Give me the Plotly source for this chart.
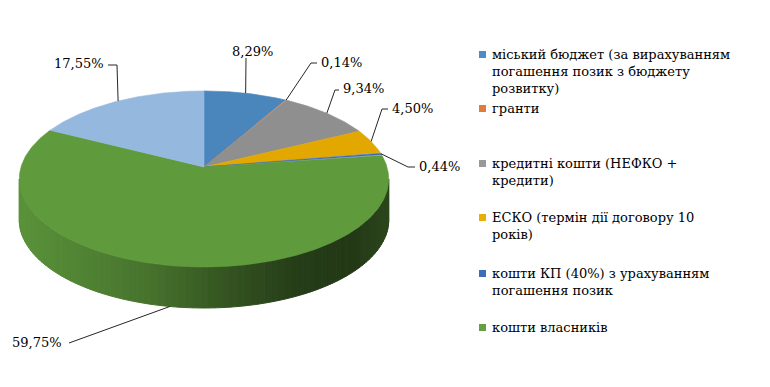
import math
import plotly.graph_objects as go

# ---------------- data ----------------
categories = [
    "міський бюджет (за вирахуванням<br>погашення позик з бюджету<br>розвитку)",
    "гранти",
    "кредитні кошти (НЕФКО +<br>кредити)",
    "ЕСКО (термін дії договору 10<br>років)",
    "кошти КП (40%) з урахуванням<br>погашення позик",
    "кошти власників",
    "",  # 7th slice has no legend entry in the original
]
values = [8.29, 0.14, 9.34, 4.50, 0.44, 59.75, 17.55]
colors = ["#4A86BC", "#E07B39", "#8F8F8F", "#E2A800", "#3F6CB8", "#5F9A3D", "#95B8DF"]
legend_colors = ["#4F8BC6", "#E07B39", "#999999", "#E8AE00", "#3F6CB8", "#64A041"]

FONT = "DejaVu Serif"

# ---------------- geometry (layout) ----------------
W, Hh = 770, 387
OFF = 8                # page body margin compensation
CX, CY = 204, 167      # pie vertex on screen
R, RY = 183, 86.4      # radii of the tilted disc
K = 0.136              # perspective factor
DEPTH = 41             # thickness of the pie

def proj(phi_deg, dz=0.0):
    p = math.radians(phi_deg)
    u, v = math.sin(p), -math.cos(p)
    s = 1.0 / (1.0 - K * v)
    return CX + R * u * s, CY + RY * v * s + dz

def hex2rgb(h):
    h = h.lstrip("#")
    return tuple(int(h[i:i + 2], 16) for i in (0, 2, 4))

def shade_factor(t):
    stops = [(0.0, 0.95), (0.35, 0.75), (0.55, 0.56), (0.75, 0.40), (0.9, 0.37), (1.0, 0.46)]
    for (t0, f0), (t1, f1) in zip(stops, stops[1:]):
        if t <= t1:
            return f0 + (f1 - f0) * (t - t0) / (t1 - t0)
    return stops[-1][1]

total = sum(values)
bounds = []
acc = 0.0
for v in values:
    a0 = acc / total * 360
    acc += v
    bounds.append((a0, acc / total * 360))

fig = go.Figure()

# ---------------- side wall ----------------
phi_vis0 = math.degrees(math.acos(-K))
phi_vis1 = 360 - phi_vis0
xl, xr = proj(phi_vis1)[0], proj(phi_vis0)[0]
STEP = 2.0
for (a0, a1), col in zip(bounds, colors):
    lo, hi = max(a0, phi_vis0), min(a1, phi_vis1)
    if hi <= lo:
        continue
    n = max(1, int(math.ceil((hi - lo) / STEP)))
    base = hex2rgb(col)
    for i in range(n):
        b0 = lo + (hi - lo) * i / n
        b1 = lo + (hi - lo) * (i + 1) / n
        x0, y0 = proj(b0)
        x1, y1 = proj(b1)
        t = ((x0 + x1) / 2 - xl) / (xr - xl)
        f = shade_factor(min(max(t, 0), 1))
        c = "rgb(%d,%d,%d)" % tuple(int(ch * f) for ch in base)
        fig.add_trace(go.Scatter(
            x=[x0, x1, x1, x0, x0], y=[y0, y1, y1 + DEPTH, y0 + DEPTH, y0],
            mode="lines", fill="toself", fillcolor=c,
            line=dict(color=c, width=1), hoverinfo="skip", showlegend=False))

# ---------------- top face ----------------
for (a0, a1), col, name in zip(bounds, colors, categories):
    n = max(2, int((a1 - a0) / 0.5) + 1)
    xs, ys = [CX], [CY]
    for i in range(n + 1):
        x, y = proj(a0 + (a1 - a0) * i / n)
        xs.append(x)
        ys.append(y)
    xs.append(CX)
    ys.append(CY)
    fig.add_trace(go.Scatter(
        x=xs, y=ys, mode="lines", fill="toself", fillcolor=col,
        line=dict(color=col, width=0.6), hoverinfo="skip", showlegend=False))

# ---------------- data labels with leader lines ----------------
# (elbow points, text position, anchor) – layout only
label_layout = [
    ([(246, 58)], (252, 51), "center"),
    ([(311, 63), (317, 63)], (319, 62), "left"),
    ([(335, 90), (339, 90)], (341, 88), "left"),
    ([(382, 109), (388, 109)], (390, 108), "left"),
    ([(408, 167), (415, 167)], (417, 166), "left"),
    ([(69, 343)], (64, 342), "right"),
    ([(117, 65), (108, 65)], (106, 63), "right"),
]
for (a0, a1), v, (elbows, (tx, ty), anc) in zip(bounds, values, label_layout):
    mid = (a0 + a1) / 2
    sx, sy = proj(mid)
    if 90 < mid < 270:
        sy += DEPTH
    lx = [sx] + [p[0] for p in elbows]
    ly = [sy] + [p[1] for p in elbows]
    fig.add_trace(go.Scatter(x=lx, y=ly, mode="lines",
                             line=dict(color="#262626", width=1),
                             hoverinfo="skip", showlegend=False))
    fig.add_annotation(x=tx, y=ty, xref="x", yref="y",
                       text=("%.2f" % v).replace(".", ",") + "%",
                       showarrow=False, xanchor=anc, yanchor="middle",
                       font=dict(family=FONT, size=13, color="#000000"))

# ---------------- legend ----------------
legend_y = [55, 109, 164, 218, 274, 328]
for name, col, ly in zip(categories[:6], legend_colors, legend_y):
    fig.add_shape(type="rect", xref="x", yref="y",
                  x0=479, x1=486, y0=ly - 4, y1=ly + 3,
                  fillcolor=col, line=dict(width=0))
    fig.add_annotation(x=490, y=ly - 10, xref="x", yref="y",
                       text=name, showarrow=False, xanchor="left", yanchor="top",
                       align="left",
                       font=dict(family=FONT, size=13, color="#000000"))

fig.update_layout(
    width=W, height=Hh,
    margin=dict(l=0, r=0, t=0, b=0),
    paper_bgcolor="white", plot_bgcolor="white",
    font=dict(family=FONT),
    xaxis=dict(range=[OFF, W + OFF], visible=False, fixedrange=True),
    yaxis=dict(range=[Hh + OFF, OFF], visible=False, fixedrange=True),
    showlegend=False,
)
fig.write_html("out.html")
